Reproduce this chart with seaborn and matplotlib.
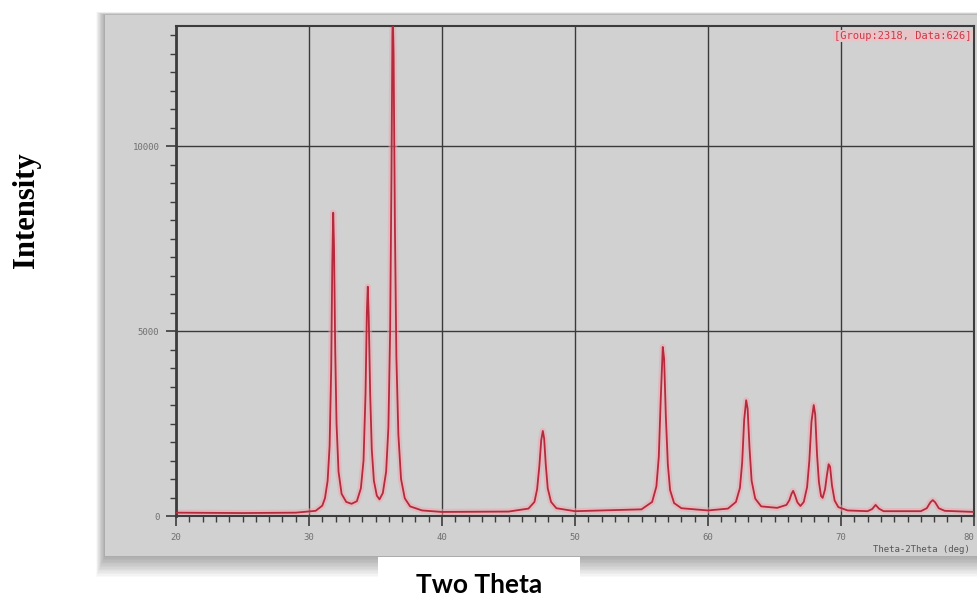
import numpy as np
import pandas as pd
import seaborn as sns
import matplotlib.pyplot as plt
from matplotlib.patches import Rectangle

# ---- data (XRD pattern) ----
two_theta = [20.0, 25.0, 29.0, 30.5, 31.0,
             31.2, 31.4, 31.55, 31.67, 31.75, 31.82, 31.88, 31.97, 32.07, 32.22, 32.45, 32.8, 33.2,
             33.6, 33.9, 34.1, 34.25, 34.35, 34.42, 34.49, 34.6, 34.72, 34.88, 35.1, 35.3,
             35.55, 35.8, 35.97, 36.1, 36.2, 36.27, 36.3, 36.36, 36.46, 36.57, 36.72, 36.92, 37.2, 37.6, 38.5,
             40.0, 45.0, 46.5,
             46.95, 47.15, 47.32, 47.46, 47.58, 47.68, 47.8, 47.95, 48.2, 48.6, 50.0,
             55.0, 55.8, 56.12, 56.3, 56.45, 56.6, 56.7, 56.83, 56.98, 57.15, 57.45, 58.0, 60.0,
             61.5, 62.1, 62.4, 62.57, 62.72, 62.87, 62.98, 63.12, 63.28, 63.55, 64.0, 65.2,
             65.9, 66.12, 66.28, 66.4, 66.52, 66.72, 66.95,
             67.2, 67.45, 67.62, 67.78, 67.95, 68.06, 68.2, 68.34, 68.5, 68.62,
             68.8, 68.94, 69.07, 69.18, 69.32, 69.52, 69.8, 70.5,
             72.0, 72.35, 72.6, 72.85, 73.2,
             76.0, 76.45, 76.72, 76.9, 77.08, 77.35, 77.8, 80.0]
intensity = [90, 80, 90, 140, 280,
             480, 950, 1900, 4000, 6800, 8200, 7300, 4500, 2500, 1200, 600, 380, 330,
             400, 750, 1500, 3300, 5500, 6200, 5400, 3300, 1800, 950, 550, 450,
             620, 1200, 2400, 5000, 9200, 13000, 13600, 12500, 7800, 4300, 2200, 1000, 480, 260, 150,
             110, 120, 200,
             380, 720, 1350, 2050, 2300, 2100, 1400, 750, 380, 210, 130,
             180, 380, 800, 1600, 3200, 4570, 4250, 2700, 1400, 700, 350, 210, 150,
             200, 380, 760, 1450, 2600, 3130, 2900, 1850, 950, 470, 260, 220,
             300, 430, 600, 680, 580, 370, 270,
             380, 780, 1500, 2550, 3000, 2750, 1650, 920, 540, 490,
             720, 1100, 1400, 1330, 830, 420, 240, 150,
             130, 190, 300, 200, 130,
             130, 210, 370, 430, 370, 210, 140, 110]

x_ticks = [20, 30, 40, 50, 60, 70, 80]
y_ticks = [0, 5000, 10000]
x_label = "Two Theta"
y_label = "Intensity"
inner_label = "Theta-2Theta (deg)"
tag_text = "[Group:2318, Data:626]"

df = pd.DataFrame({"two_theta": two_theta, "intensity": intensity})

sns.set_style("white")
W, H = 977, 597
fig = plt.figure(figsize=(W / 100, H / 100), dpi=100)
fig.patch.set_facecolor("white")


def fx(px):
    return px / W


def fy(py):
    return 1 - py / H


# soft shadow of the screenshot panel
for k in range(1, 16):
    fig.patches.append(Rectangle((fx(105 - k * 0.6), fy(556 + k * 1.4)),
                                 (977 - 105 + k) / W, (556 - 15 + k * 1.6) / H,
                                 transform=fig.transFigure, facecolor="black",
                                 alpha=0.022, edgecolor="none", zorder=0))
# grey panel
fig.patches.append(Rectangle((fx(105), fy(556)), (977 - 105) / W, (556 - 15) / H,
                             transform=fig.transFigure, facecolor="#d1d1d1",
                             edgecolor="none", zorder=1))
# white box under the x label
fig.patches.append(Rectangle((fx(378), 0), (580 - 378) / W, fy(557),
                             transform=fig.transFigure, facecolor="white",
                             edgecolor="none", zorder=2))

ax = fig.add_axes([fx(176), fy(516), 798 / W, 490 / H])
ax.set_zorder(3)
ax.set_facecolor("#d1d1d1")

# halo and line
ax.plot(df["two_theta"], df["intensity"], color="#f0a4ac", lw=4.5, alpha=0.5, zorder=2)
sns.lineplot(data=df, x="two_theta", y="intensity", ax=ax, color="#b52a3c",
             lw=1.3, estimator=None, sort=False, zorder=3)

ax.set_xlim(20, 80)
ax.set_ylim(0, 13250)
ax.set_xticks(x_ticks)
ax.set_yticks(y_ticks)
ax.set_xticks(np.arange(20, 81, 1), minor=True)
ax.set_yticks(np.arange(0, 13251, 500), minor=True)
ax.grid(True, which="major", color="#3a3a3a", lw=1.0)
ax.set_axisbelow(True)

for side, sp in ax.spines.items():
    sp.set_visible(True)
    sp.set_color("#3c3c3c")
    sp.set_linewidth(1.5)
ax.spines["left"].set_linewidth(2.0)

ax.tick_params(axis="both", which="major", direction="out", length=7, width=1.2,
               color="#3c3c3c", labelsize=6.5, labelcolor="#707070", pad=5,
               bottom=True, left=True)
ax.tick_params(axis="both", which="minor", direction="out", length=4, width=1.0,
               color="#3c3c3c", bottom=True, left=True)
for lab in ax.get_xticklabels() + ax.get_yticklabels():
    lab.set_family("DejaVu Sans Mono")
ax.get_xticklabels()[-1].set_horizontalalignment("right")

ax.set_xlabel("")
ax.set_ylabel("")

ax.text(0.997, 0.99, tag_text, transform=ax.transAxes, ha="right", va="top",
        fontsize=7.5, family="DejaVu Sans Mono", color="#d03848",
        bbox=dict(facecolor="#e6c4c8", edgecolor="none", pad=1.0))

fig.text(fx(970), fy(550), inner_label, ha="right", va="center", fontsize=6.5,
         family="DejaVu Sans Mono", color="#555555", zorder=4)

fig.text(fx(27), fy(210), y_label, rotation=90, ha="center", va="center",
         fontsize=22, fontweight="bold", family="Liberation Serif", color="black")
fig.text(fx(479), fy(585), x_label, ha="center", va="center",
         fontsize=19, fontweight="bold", family="Lato", color="black", zorder=5)

fig.savefig("out.png", dpi=100, facecolor="white")
